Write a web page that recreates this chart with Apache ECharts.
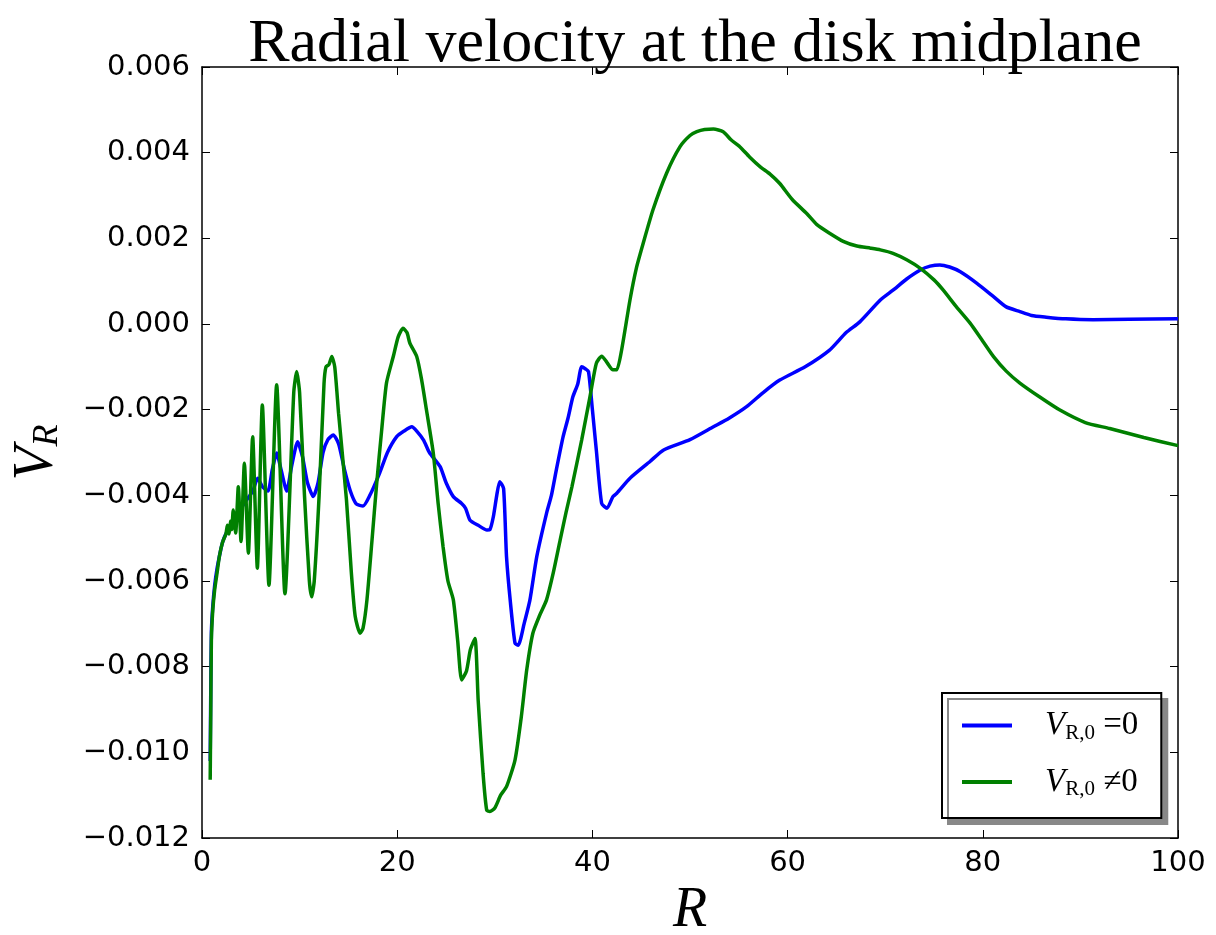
<!DOCTYPE html>
<html>
<head>
<meta charset="utf-8">
<script src="https://cdn.jsdelivr.net/npm/echarts@6/dist/echarts.min.js"></script>
<style>html,body{margin:0;padding:0;background:#fff}#c{width:1216px;height:935px}</style>
</head>
<body>
<div id="c"></div>
<script>
const titleText = 'Radial velocity at the disk midplane';
const xTicks = [0, 20, 40, 60, 80, 100];
const yTicks = [-0.012, -0.010, -0.008, -0.006, -0.004, -0.002, 0.000, 0.002, 0.004, 0.006];
const seriesNames = ['VR0_eq0', 'VR0_ne0'];

// Series 1: V_R,0 = 0 (blue)
const rBlue = [0.84,0.90,0.96,1.1,1.3,1.55,1.8,2.1,2.45,3.0,3.5,4.0,4.6,5.2,5.7,6.2,6.76,7.2,7.65,8.1,8.68,9.2,9.8,10.3,10.8,11.4,11.9,12.4,12.9,13.45,14.0,14.6,15.2,15.8,16.5,17.2,18.2,19.0,19.95,20.7,21.5,22.0,22.7,23.3,24.4,25.0,25.75,26.6,27.0,27.46,28.3,29.2,29.5,29.85,30.2,30.5,30.9,31.2,31.6,32.07,32.4,33.0,33.6,34.3,35.3,35.8,36.3,37.0,37.5,38.0,38.5,38.9,39.3,39.6,40.0,40.4,40.95,41.5,42.1,42.5,43.85,45.9,47.3,50.0,52.4,54.0,55.8,57.5,59.2,61.8,64.3,66.0,67.4,69.5,70.8,72.2,73.6,74.6,75.6,76.6,77.7,79.4,81.1,82.4,83.8,85.0,86.5,88.5,91.3,95.0,100];
const vBlue = [-0.0102,-0.0085,-0.0072,-0.0066,-0.0061,-0.0057,-0.0054,-0.0051,-0.0049,-0.0047,-0.0045,-0.0043,-0.0041,-0.0039,-0.0036,-0.0038,-0.0039,-0.0034,-0.00301,-0.0034,-0.0039,-0.0033,-0.00275,-0.0031,-0.0037,-0.00403,-0.0037,-0.0030,-0.0027,-0.00259,-0.0028,-0.0034,-0.0039,-0.0042,-0.00425,-0.0040,-0.00348,-0.0030,-0.00263,-0.0025,-0.0024,-0.0025,-0.00271,-0.0030,-0.00333,-0.0037,-0.00403,-0.00419,-0.0043,-0.00458,-0.0047,-0.00481,-0.0048,-0.0045,-0.0040,-0.00368,-0.00384,-0.00543,-0.0065,-0.00745,-0.0075,-0.0070,-0.00644,-0.00543,-0.00442,-0.0040,-0.00341,-0.00263,-0.0022,-0.0017,-0.0014,-0.0010,-0.00105,-0.00111,-0.0020,-0.00294,-0.00419,-0.0043,-0.00403,-0.00395,-0.0036,-0.00321,-0.00294,-0.0027,-0.0024,-0.0022,-0.00193,-0.0016,-0.00131,-0.0010,-0.00061,-0.0002,0.00005,0.00056,0.00079,0.00105,0.00126,0.00135,0.00138,0.00133,0.00122,0.00095,0.00064,0.0004,0.00029,0.0002,0.00016,0.00012,0.0001,0.00011,0.00012];

// Series 2: V_R,0 != 0 (green)
const rGreen = [0.84,0.90,0.96,1.1,1.3,1.55,1.8,2.1,2.45,2.6,2.75,2.95,3.05,3.2,3.45,3.72,4.0,4.34,4.75,5.19,5.67,6.18,6.86,7.65,8.5,9.4,9.7,10.0,10.5,11.0,11.24,11.5,12.0,12.5,12.7,13.0,13.3,13.6,14.0,14.8,15.3,15.7,16.2,16.5,16.9,17.4,17.9,18.4,18.9,19.6,20.1,20.6,21.0,21.3,22.0,22.5,23.0,23.7,24.2,24.7,25.2,25.75,26.2,26.6,27.1,27.5,27.97,28.3,28.8,29.17,29.5,30.0,30.6,31.2,32.07,32.7,33.27,33.9,34.6,35.3,36.0,36.7,37.3,37.9,38.9,39.75,40.4,40.95,41.5,42.1,42.5,43.0,43.85,44.5,45.2,46.2,47.6,48.98,50.0,50.7,51.5,52.4,53.4,54.2,55.1,56.1,57.2,58.2,59.2,60.5,61.96,63.0,64.3,65.7,67.1,68.5,69.5,70.8,72.2,73.6,75.0,75.95,77.3,78.7,80.0,81.1,82.4,83.8,85.8,87.9,90.5,93.0,96.5,100];
const vGreen = [-0.01064,-0.0090,-0.0074,-0.0067,-0.0062,-0.0058,-0.0054,-0.0051,-0.0049,-0.0047,-0.0049,-0.0046,-0.0048,-0.00434,-0.00488,-0.0038,-0.00508,-0.00325,-0.00535,-0.00263,-0.0057,-0.00189,-0.0061,-0.00142,-0.0063,-0.0016,-0.00111,-0.0016,-0.0040,-0.0060,-0.00637,-0.0060,-0.0040,-0.0014,-0.0010,-0.00095,-0.00076,-0.0010,-0.0021,-0.0041,-0.0058,-0.00683,-0.00722,-0.0071,-0.00644,-0.0051,-0.00372,-0.0025,-0.00138,-0.00076,-0.0003,-0.0001,-0.0002,-0.00045,-0.00076,-0.0013,-0.00201,-0.00302,-0.0042,-0.0052,-0.0060,-0.00644,-0.0074,-0.00831,-0.0081,-0.0076,-0.00734,-0.0088,-0.0105,-0.01135,-0.01138,-0.0113,-0.0110,-0.0108,-0.01018,-0.0092,-0.00808,-0.00722,-0.0068,-0.00644,-0.0058,-0.00504,-0.0044,-0.0038,-0.00271,-0.0017,-0.00092,-0.00075,-0.0009,-0.00107,-0.00107,-0.0006,0.00056,0.0013,0.00188,0.00266,0.00352,0.00414,0.0044,0.00449,0.00454,0.00455,0.00449,0.0043,0.00414,0.0039,0.00367,0.0035,0.00328,0.0029,0.00258,0.00232,0.00212,0.00193,0.00182,0.00177,0.00173,0.00165,0.0015,0.0013,0.00103,0.00079,0.0004,0.00002,-0.0004,-0.00076,-0.0011,-0.00138,-0.0017,-0.00201,-0.0023,-0.00244,-0.00265,-0.00284];

const chart = echarts.init(document.getElementById('c'), null, {renderer: 'canvas'});
const fmtY = v => {
  const s = Math.abs(v).toFixed(3);
  return (v < -1e-12 ? '\u2212' : '') + s;
};
const serif = 'Liberation Serif';
const sans = 'DejaVu Sans';
const baseAxis = {
  axisLine: {show: true, onZero: false, lineStyle: {color: '#000', width: 1.5}},
  axisTick: {show: true, inside: true, length: 8, lineStyle: {color: '#000', width: 1}},
  splitLine: {show: false}
};
const legendRich = {
  v: {fontFamily: serif, fontStyle: 'italic', fontSize: 33, color: '#000', padding: [0, 0, 0, 28]},
  s: {fontFamily: serif, fontSize: 21, color: '#000', padding: [15, 0, 0, 0]},
  e: {fontFamily: serif, fontSize: 33, color: '#000'}
};
chart.setOption({
  animation: false,
  backgroundColor: '#fff',
  title: {
    text: titleText, left: 690, textAlign: 'center', top: 9,
    textStyle: {fontFamily: serif, fontSize: 62, fontWeight: 'normal', color: '#000'}
  },
  grid: {left: 202, right: 38, top: 67, bottom: 97, containLabel: false, outerBoundsMode: 'none'},
  legend: {
    orient: 'vertical', left: 942, top: 693,
    data: seriesNames,
    icon: 'rect',
    itemWidth: 50, itemHeight: 4, itemGap: 22,
    padding: [16, 23, 18, 20],
    backgroundColor: '#fff', borderColor: '#000', borderWidth: 2,
    shadowColor: '#888', shadowBlur: 0, shadowOffsetX: 6, shadowOffsetY: 6,
    formatter: n => n === seriesNames[0] ? '{v|V}{s|R,0}{e| =0}' : '{v|V}{s|R,0}{e| \u22600}',
    textStyle: {rich: legendRich, fontSize: 33}
  },
  xAxis: [
    Object.assign({}, baseAxis, {
      type: 'value', min: 0, max: 100, interval: 20, position: 'bottom',
      axisLabel: {color: '#000', fontFamily: sans, fontSize: 29, margin: 11},
      name: 'R', nameLocation: 'middle', nameGap: 35,
      nameTextStyle: {fontFamily: serif, fontStyle: 'italic', fontSize: 56, color: '#000'}
    }),
    Object.assign({}, baseAxis, {
      type: 'value', min: 0, max: 100, interval: 20, position: 'top',
      axisLabel: {show: false}
    })
  ],
  yAxis: [
    Object.assign({}, baseAxis, {
      type: 'value', min: -0.012, max: 0.006, interval: 0.002, position: 'left',
      axisLabel: {color: '#000', fontFamily: sans, fontSize: 29, margin: 12, formatter: fmtY},
      name: '{v|V}{s|R}', nameLocation: 'middle', nameGap: 136, nameRotate: 90,
      nameTextStyle: {
        rich: {
          v: {fontFamily: serif, fontStyle: 'italic', fontSize: 56, color: '#000'},
          s: {fontFamily: serif, fontStyle: 'italic', fontSize: 36, color: '#000', padding: [22, 0, 0, 0]}
        }
      }
    }),
    Object.assign({}, baseAxis, {
      type: 'value', min: -0.012, max: 0.006, interval: 0.002, position: 'right',
      axisLabel: {show: false}
    })
  ],
  series: [
    {
      name: seriesNames[0], type: 'line', symbol: 'none', smooth: 0.2,
      lineStyle: {color: '#0000ff', width: 3.5}, itemStyle: {color: '#0000ff'},
      data: rBlue.map((r, i) => [r, vBlue[i]]), z: 2
    },
    {
      name: seriesNames[1], type: 'line', symbol: 'none', smooth: 0.2,
      lineStyle: {color: '#008000', width: 3.5}, itemStyle: {color: '#008000'},
      data: rGreen.map((r, i) => [r, vGreen[i]]), z: 3
    }
  ]
});
</script>
</body>
</html>
